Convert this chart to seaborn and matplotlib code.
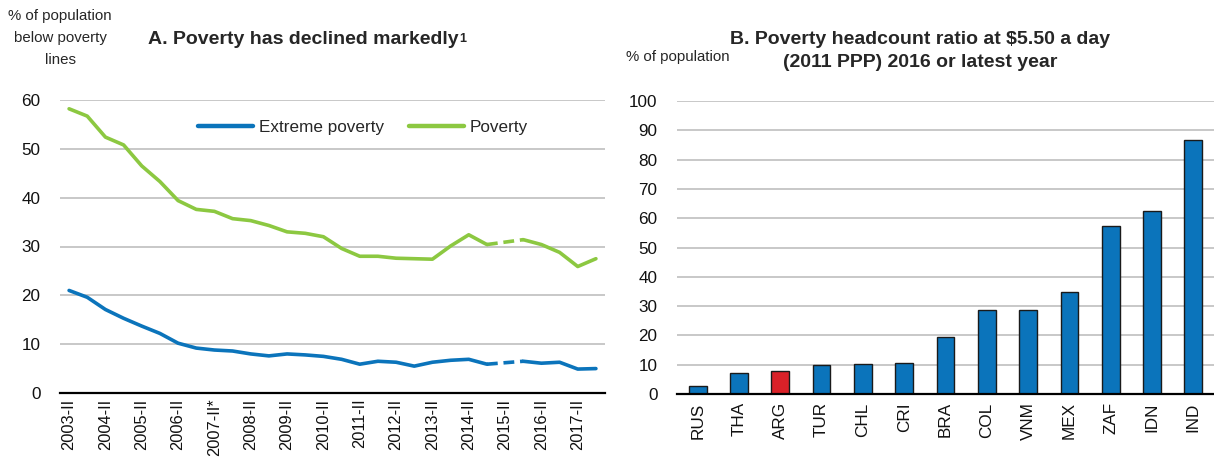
import matplotlib
matplotlib.use("Agg")
import matplotlib.pyplot as plt
import seaborn as sns
import numpy as np
import pandas as pd

# ---------------- data ----------------
period_labels = ["2003-II", "", "2004-II", "", "2005-II", "", "2006-II", "",
                 "2007-II*", "", "2008-II", "", "2009-II", "", "2010-II", "",
                 "2011-II", "", "2012-II", "", "2013-II", "", "2014-II", "",
                 "2015-II", "", "2016-II", "", "2017-II", ""]
extreme_poverty = [21.0, 19.6, 17.1, 15.3, 13.7, 12.2, 10.2, 9.2, 8.8, 8.6,
                   8.0, 7.6, 8.0, 7.8, 7.5, 6.9, 5.9, 6.5, 6.3, 5.5,
                   6.3, 6.7, 6.9, 5.9, None, 6.5, 6.1, 6.3, 4.9, 5.0]
poverty = [58.2, 56.7, 52.4, 50.8, 46.5, 43.3, 39.4, 37.6, 37.2, 35.7,
           35.3, 34.3, 33.0, 32.7, 32.0, 29.6, 28.0, 28.0, 27.6, 27.5,
           27.4, 30.1, 32.4, 30.4, None, 31.4, 30.4, 28.8, 25.9, 27.5]

countries = ["RUS", "THA", "ARG", "TUR", "CHL", "CRI", "BRA", "COL", "VNM",
             "MEX", "ZAF", "IDN", "IND"]
headcount = [2.8, 7.1, 7.9, 10.0, 10.2, 10.7, 19.4, 28.5, 28.6, 34.8,
             57.2, 62.3, 86.8]
highlight = "ARG"

# ---------------- style ----------------
BLUE = "#0B74BB"
GREEN = "#8CC841"
RED = "#DA2128"
GRID = "#C8C8C8"

sns.set_style("white")
plt.rcParams["font.family"] = ["Liberation Sans", "DejaVu Sans"]

W, H = 1214, 458
fig = plt.figure(figsize=(W / 100, H / 100), dpi=100)

axA = fig.add_axes([60 / W, 1 - 393 / H, 545 / W, 293 / H])
axB = fig.add_axes([677 / W, 1 - 394 / H, 537 / W, 293 / H])

TICK_FS = 12.3
XTICK_FS = 11.8

# ---------------- panel A ----------------
df = pd.DataFrame({
    "idx": np.arange(len(period_labels)),
    "Extreme poverty": pd.array(extreme_poverty, dtype="Float64").astype(float),
    "Poverty": pd.array(poverty, dtype="Float64").astype(float),
})

def draw_series(col, color, label):
    s = df[col]
    gap = int(np.where(s.isna())[0][0])
    first = df.iloc[:gap]
    bridge = df.iloc[[gap - 1, gap + 1]]
    last = df.iloc[gap + 1:]
    sns.lineplot(data=first, x="idx", y=col, ax=axA, color=color, lw=2.6,
                 label=label, solid_capstyle="round")
    sns.lineplot(data=bridge, x="idx", y=col, ax=axA, color=color, lw=2.6,
                 linestyle=(0, (3, 1.6)), legend=False)
    sns.lineplot(data=last, x="idx", y=col, ax=axA, color=color, lw=2.6,
                 legend=False, solid_capstyle="round")

draw_series("Extreme poverty", BLUE, "Extreme poverty")
draw_series("Poverty", GREEN, "Poverty")

n = len(period_labels)
axA.set_xlim(-0.5, n - 0.5)
axA.set_ylim(0, 60)
axA.set_yticks(np.arange(0, 61, 10))
axA.set_xticks(np.arange(n))
axA.set_xticklabels(period_labels, rotation=90)
axA.set_xticks(np.arange(-0.5, n, 1), minor=True)

leg = axA.legend(loc="center", bbox_to_anchor=(0.556, 0.905), ncol=2,
                 frameon=False, fontsize=12.3, handlelength=3.2,
                 handletextpad=0.35, columnspacing=1.5)
for h in leg.get_lines():
    h.set_linewidth(3.2)

# ---------------- panel B ----------------
palette = {c: (RED if c == highlight else BLUE) for c in countries}
sns.barplot(x=countries, y=headcount, hue=countries, palette=palette,
            width=0.43, edgecolor="#1a1a1a", linewidth=1.0, legend=False,
            saturation=1, ax=axB)
axB.set_xlim(-0.5, len(countries) - 0.5)
axB.set_ylim(0, 100)
axB.set_yticks(np.arange(0, 101, 10))
axB.set_xticks(np.arange(-0.5, len(countries), 1), minor=True)
for lab in axB.get_xticklabels():
    lab.set_rotation(90)

# ---------------- common axis formatting ----------------
for ax in (axA, axB):
    ax.set_xlabel("")
    ax.set_ylabel("")
    ax.set_facecolor("none")
    for side in ("top", "right", "left"):
        ax.spines[side].set_visible(False)
    ax.spines["bottom"].set_color("black")
    ax.spines["bottom"].set_linewidth(1.6)
    ax.spines["bottom"].set_zorder(5)
    ax.yaxis.grid(True, color=GRID, lw=1.4)
    ax.xaxis.grid(False)
    ax.set_axisbelow(True)
    ax.tick_params(axis="y", length=0, pad=14, labelsize=TICK_FS, colors="#111111")
    ax.tick_params(axis="x", which="major", length=0, pad=4, labelsize=XTICK_FS,
                   colors="#111111")
    ax.tick_params(axis="x", which="minor", length=6, width=1.4, direction="in",
                   color="black")

axB.tick_params(axis="x", which="major", pad=6, labelsize=12.3)

# ---------------- titles / unit labels ----------------
tA = fig.text(303 / W, 1 - 40 / H, "A. Poverty has declined markedly",
              ha="center", va="center", fontsize=14, fontweight="bold")
axA.annotate("1", xy=(1.0, 1.0), xycoords=tA, xytext=(1, -1),
             textcoords="offset points", ha="left", va="top",
             fontsize=9, fontweight="bold")
fig.text(60 / W, 1 - 9 / H, "% of population\nbelow poverty\nlines",
         ha="center", va="top", fontsize=10.8, linespacing=1.72)

fig.text(920 / W, 1 - 51 / H,
         "B. Poverty headcount ratio at $5.50 a day\n(2011 PPP) 2016 or latest year",
         ha="center", va="center", fontsize=14, fontweight="bold",
         linespacing=1.4)
fig.text(678 / W, 1 - 57 / H, "% of population", ha="center", va="center",
         fontsize=10.8)

fig.savefig("out.png", dpi=100)
